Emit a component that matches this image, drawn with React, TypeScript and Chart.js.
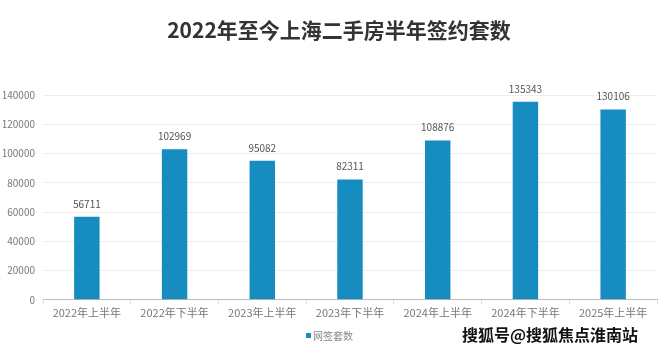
import React, { useEffect, useRef } from "react";
import { Chart, registerables } from "chart.js";

Chart.register(...registerables);

const categories = ["2022年上半年", "2022年下半年", "2023年上半年", "2023年下半年", "2024年上半年", "2024年下半年", "2025年上半年"];
const values = [56711, 102969, 95082, 82311, 108876, 135343, 130106];
const seriesName = "网签套数";
const titleText = "2022年至今上海二手房半年签约套数";
const watermark = "搜狐号@搜狐焦点淮南站";
const yTicks = [0, 20000, 40000, 60000, 80000, 100000, 120000, 140000];

const FONT = "'Noto Sans CJK SC', 'Liberation Sans', sans-serif";
const BAR = "#168cc0";

const extras = {
  id: "extras",
  afterDatasetsDraw(chart: any) {
    const ctx = chart.ctx;
    const meta = chart.getDatasetMeta(0);
    ctx.save();
    ctx.font = `10px ${FONT}`;
    ctx.fillStyle = "#555";
    ctx.textAlign = "center";
    ctx.textBaseline = "bottom";
    meta.data.forEach((el: any, i: number) => {
      ctx.fillText(String(values[i]), el.x, el.y - 8);
    });
    ctx.restore();
  },
  afterDraw(chart: any) {
    const ctx = chart.ctx;
    ctx.save();
    ctx.font = `bold 21px ${FONT}`;
    ctx.fillStyle = "#333";
    ctx.textAlign = "center";
    ctx.textBaseline = "middle";
    ctx.fillText(titleText, 339, 30);
    ctx.fillStyle = BAR;
    ctx.fillRect(306, 333, 5, 5);
    ctx.font = `10px ${FONT}`;
    ctx.fillStyle = "#888";
    ctx.textAlign = "left";
    ctx.fillText(seriesName, 313, 336);
    ctx.font = `bold 16px ${FONT}`;
    ctx.lineJoin = "round";
    ctx.lineWidth = 3;
    ctx.strokeStyle = "#fff";
    ctx.strokeText(watermark, 462, 335);
    ctx.fillStyle = "#111";
    ctx.fillText(watermark, 462, 335);
    ctx.restore();
  },
};

export default function App() {
  const ref = useRef<HTMLCanvasElement>(null);
  useEffect(() => {
    const chart = new Chart(ref.current!, {
      type: "bar",
      data: {
        labels: categories,
        datasets: [
          {
            label: seriesName,
            data: values,
            backgroundColor: BAR,
            categoryPercentage: 1,
            barPercentage: 0.29,
          },
        ],
      },
      options: {
        animation: false,
        responsive: false,
        layout: { padding: { top: 95, right: 3, bottom: 30, left: 3 } },
        plugins: { legend: { display: false }, title: { display: false }, tooltip: { enabled: false } },
        scales: {
          x: {
            offset: true,
            grid: { display: true, drawOnChartArea: false, color: "#ddd", tickLength: 4 },
            border: { color: "#bbb" },
            ticks: { color: "#777", font: { family: FONT, size: 11 }, maxRotation: 0, padding: 2 },
          },
          y: {
            min: 0,
            max: 140000,
            afterBuildTicks: (s: any) => {
              s.ticks = yTicks.map((v) => ({ value: v }));
            },
            afterFit: (s: any) => {
              s.width = 40;
            },
            grid: { color: "#eee", drawTicks: false },
            border: { display: false },
            ticks: { color: "#777", font: { family: FONT, size: 10 }, padding: 8, callback: (v: any) => String(v) },
          },
        },
      },
      plugins: [extras],
    });
    return () => chart.destroy();
  }, []);
  return (
    <div style={{ position: "fixed", left: 0, top: 0, width: 660, height: 351, background: "#fff" }}>
      <canvas ref={ref} width={660} height={351} />
    </div>
  );
}
